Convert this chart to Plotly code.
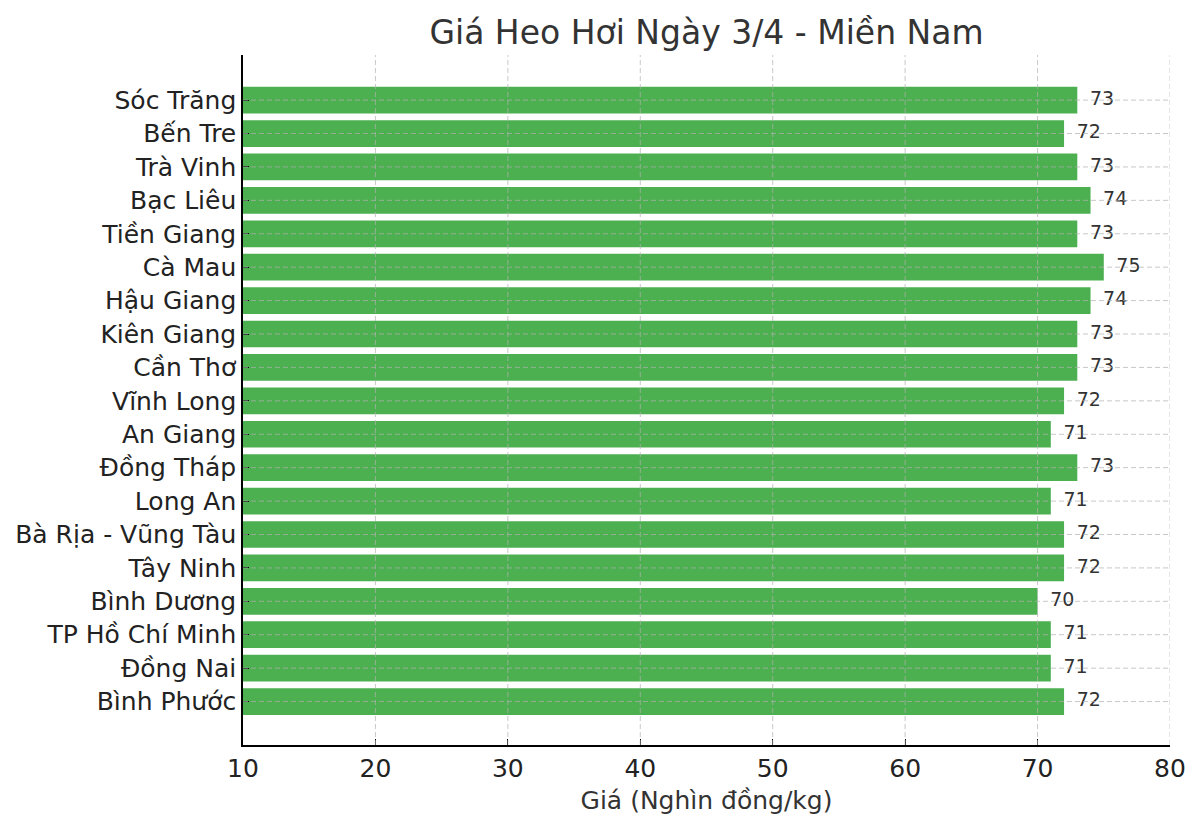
import plotly.graph_objects as go

# provinces listed bottom to top
provinces = ["Bình Phước", "Đồng Nai", "TP Hồ Chí Minh", "Bình Dương", "Tây Ninh",
             "Bà Rịa - Vũng Tàu", "Long An", "Đồng Tháp", "An Giang", "Vĩnh Long",
             "Cần Thơ", "Kiên Giang", "Hậu Giang", "Cà Mau", "Tiền Giang",
             "Bạc Liêu", "Trà Vinh", "Bến Tre", "Sóc Trăng"]
prices = [72, 71, 71, 70, 72, 72, 71, 73, 71, 72, 73, 73, 74, 75, 73, 74, 73, 72, 73]
x_ticks = [10, 20, 30, 40, 50, 60, 70, 80]

fig = go.Figure()

# bars drawn from the axis start (10)
fig.add_trace(go.Bar(
    x=[p - 10 for p in prices],
    base=10,
    y=provinces,
    orientation='h',
    width=0.8,
    marker=dict(color='#4CAF50', line=dict(width=0)),
    hovertemplate='%{y}: %{customdata}<extra></extra>',
    customdata=prices,
))

fig.add_trace(go.Scatter(
    x=[p + 0.95 for p in prices],
    y=provinces,
    mode='text',
    text=[str(p) for p in prices],
    textposition='middle right',
    textfont=dict(size=19, color='#333333'),
    cliponaxis=False,
))

# dashed grid drawn on top of the bars, like the original
grid = dict(color='rgba(176,176,176,0.7)', width=1, dash='5px,3px')
shapes = []
for t in x_ticks[1:]:
    shapes.append(dict(type='line', xref='x', yref='paper', x0=t, x1=t, y0=0, y1=1,
                       line=grid, layer='above'))
for p in provinces:
    shapes.append(dict(type='line', xref='paper', yref='y', x0=0, x1=1, y0=p, y1=p,
                       line=grid, layer='above'))

fig.update_layout(
    width=1200, height=828,
    paper_bgcolor='white', plot_bgcolor='white',
    font=dict(family='DejaVu Sans', color='#222222'),
    title=dict(text='Giá Heo Hơi Ngày 3/4 - Miền Nam', x=0.5, xref='paper', xanchor='center',
               y=0.971, yanchor='middle', font=dict(size=33, color='#333333')),
    margin=dict(l=235, r=38, t=47, b=91),
    showlegend=False,
    shapes=shapes,
    xaxis=dict(
        range=[10, 80], tickvals=x_ticks, showline=True, linecolor='black', linewidth=1.5,
        ticks='inside', ticklen=6, tickcolor='black', tickfont=dict(size=25, color='#222222'),
        showgrid=False, zeroline=False, automargin=False,
        title=dict(text='Giá (Nghìn đồng/kg)', font=dict(size=25, color='#333333'), standoff=10),
    ),
    yaxis=dict(
        range=[-1.3, 19.35], showline=True, linecolor='black', linewidth=1.5,
        ticks='inside', ticklen=6, tickcolor='black', tickfont=dict(size=25, color='#222222'),
        showgrid=False, zeroline=False, automargin=False,
    ),
)

fig.write_html("out.html")
